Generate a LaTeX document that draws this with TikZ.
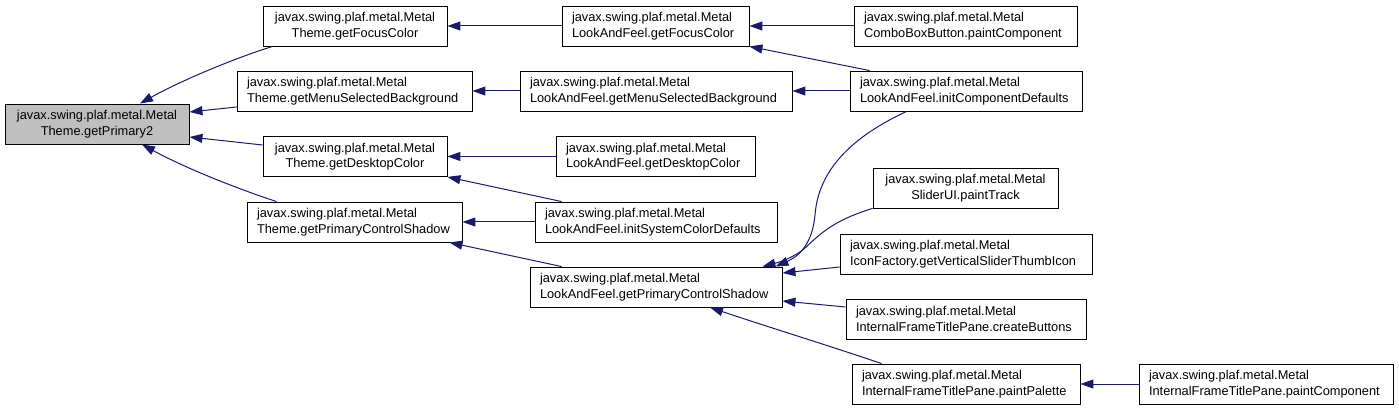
\documentclass[tikz,border=0pt]{standalone}
\usepackage{fontspec}
\setmainfont{Liberation Sans}
\usetikzlibrary{arrows.meta,calc}
\definecolor{edgecol}{HTML}{191970}
\definecolor{rootfill}{HTML}{BFBFBF}
\hyphenpenalty=10000
\exhyphenpenalty=10000
\tikzset{
  box/.style={draw=black, line width=0.9pt, fill=white,
    font=\fontsize{12.8}{15.5}\selectfont,
    inner xsep=10pt, inner ysep=2pt, minimum height=40pt, align=left},
  cbox/.style={box, align=center},
  edge/.style={draw=edgecol, line width=1pt, -{Triangle[length=13pt,width=9pt]}}
}
\begin{document}
\begin{tikzpicture}[x=1pt,y=-1pt]
\useasboundingbox (0,0) rectangle (1399,411);
% nodes
\node[cbox, fill=rootfill, text width=164pt] (r) at (97,124) {javax.swing.plaf.metal.Metal\\Theme.getPrimary2};
\node[cbox, text width=164pt] (t1) at (355,26) {javax.swing.plaf.metal.Metal\\Theme.getFocusColor};
\node[box, text width=215pt] (t2) at (354.5,91) {javax.swing.plaf.metal.Metal\\Theme.getMenuSelectedBackground};
\node[cbox, text width=164pt] (t3) at (355,156.5) {javax.swing.plaf.metal.Metal\\Theme.getDesktopColor};
\node[box, text width=195pt] (t4) at (354.5,222) {javax.swing.plaf.metal.Metal\\Theme.getPrimaryControlShadow};
\node[box, text width=167pt] (l1) at (655.5,26) {javax.swing.plaf.metal.Metal\\LookAndFeel.getFocusColor};
\node[box, text width=252pt] (l2) at (656,91) {javax.swing.plaf.metal.Metal\\LookAndFeel.getMenuSelectedBackground};
\node[box, text width=179pt] (l3) at (655.5,156.5) {javax.swing.plaf.metal.Metal\\LookAndFeel.getDesktopColor};
\node[box, text width=222pt] (l4) at (656,222) {javax.swing.plaf.metal.Metal\\LookAndFeel.initSystemColorDefaults};
\node[box, text width=232pt] (l5) at (656,287) {javax.swing.plaf.metal.Metal\\LookAndFeel.getPrimaryControlShadow};
\node[box, text width=203pt] (c1) at (965.5,26) {javax.swing.plaf.metal.Metal\\ComboBoxButton.paintComponent};
\node[box, text width=212pt] (c2) at (966,91) {javax.swing.plaf.metal.Metal\\LookAndFeel.initComponentDefaults};
\node[cbox, text width=165pt] (c3) at (965.5,188) {javax.swing.plaf.metal.Metal\\SliderUI.paintTrack};
\node[box, text width=232pt] (c4) at (966,254) {javax.swing.plaf.metal.Metal\\IconFactory.getVerticalSliderThumbIcon};
\node[box, text width=220pt] (c5) at (966,319) {javax.swing.plaf.metal.Metal\\InternalFrameTitlePane.createButtons};
\node[box, text width=208pt] (c6) at (966,384) {javax.swing.plaf.metal.Metal\\InternalFrameTitlePane.paintPalette};
\node[box, text width=234pt] (d1) at (1266,384) {javax.swing.plaf.metal.Metal\\InternalFrameTitlePane.paintComponent};
% edges
\draw[edge] ($(t1.south west)+(10,0)$) .. controls (238,57) and (182,80) .. ($(r.north)+(43,0)$);
\draw[edge] ($(t2.west)+(0,16)$) -- ($(r.east)+(0,-12)$);
\draw[edge] ($(t3.west)+(0,-11.5)$) -- ($(r.east)+(0,13)$);
\draw[edge] ($(t4.north west)+(30,0)$) .. controls (238,189) and (185,168) .. ($(r.south)+(45,0)$);
\draw[edge] (l1.west) -- (t1.east);
\draw[edge] (l2.west) -- (t2.east);
\draw[edge] (l3.west) -- (t3.east);
\draw[edge] ($(l4.north west)+(27,0)$) -- (t3.south east);
\draw[edge] (l4.west) -- (t4.east);
\draw[edge] ($(l5.north west)+(32,0)$) -- ($(t4.south east)+(-13,0)$);
\draw[edge] (c1.west) -- (l1.east);
\draw[edge] ($(c2.north west)+(20,0)$) -- (l1.south east);
\draw[edge] (c2.west) -- (l2.east);
\draw[edge] ($(c2.south west)+(57,0)$) .. controls (845,140) and (818,175) .. (815,215) .. controls (812,248) and (795,258) .. ($(l5.north east)+(-7,0)$);
\draw[edge] (c3.south west) .. controls (835,220) and (822,232) .. (805,248) .. controls (795,257) and (780,262) .. ($(l5.north east)+(-20,0)$);
\draw[edge] ($(c4.west)+(0,13)$) -- ($(l5.east)+(0,-14)$);
\draw[edge] ($(c5.west)+(0,-12)$) -- ($(l5.east)+(0,14)$);
\draw[edge] ($(c6.north west)+(30,0)$) .. controls (830,346) and (765,326) .. ($(l5.south)+(54,0)$);
\draw[edge] (d1.west) -- (c6.east);
\end{tikzpicture}
\end{document}
